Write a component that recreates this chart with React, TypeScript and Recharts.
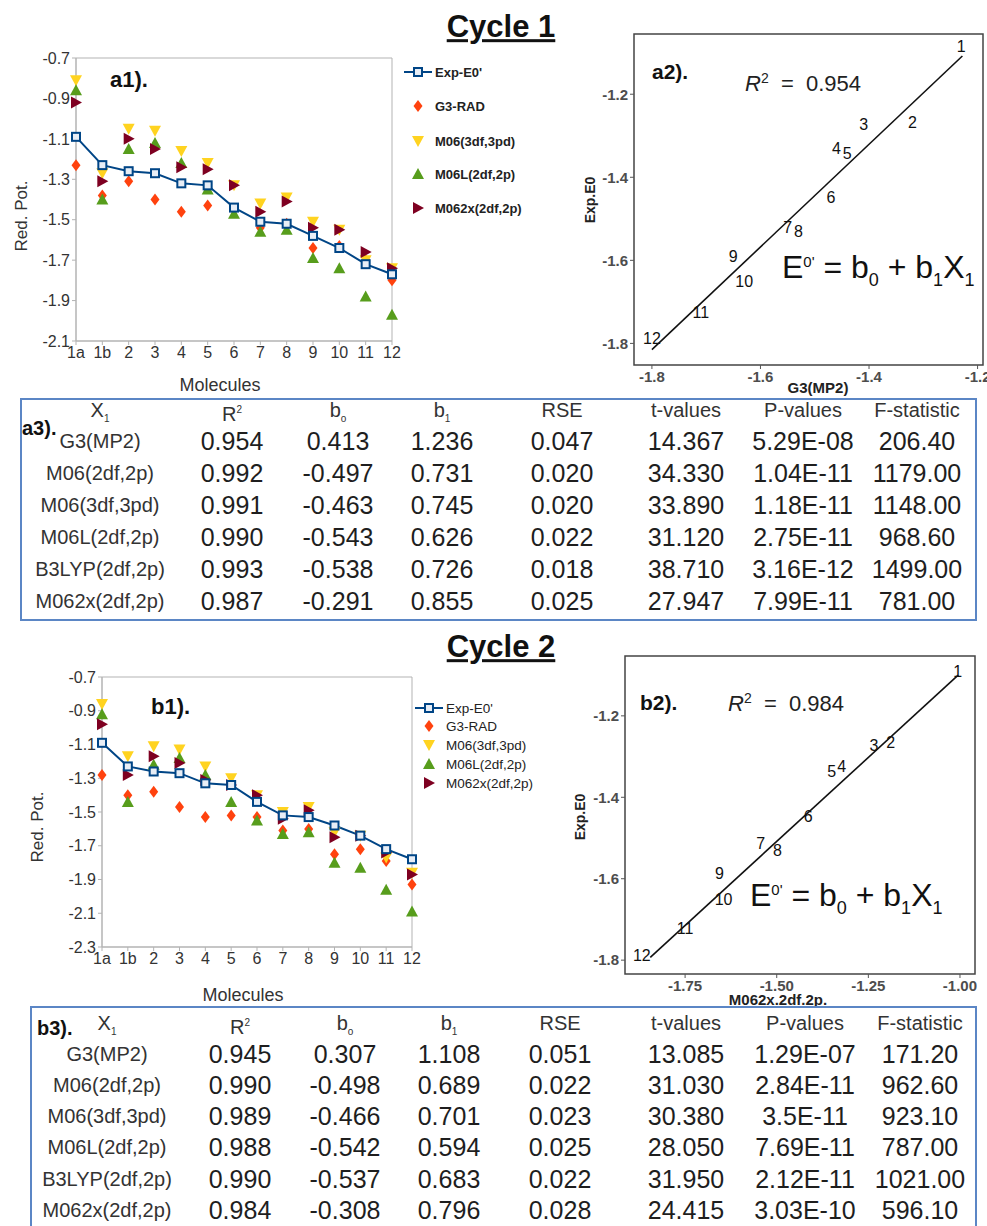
import React from 'react'
import { ComposedChart, Line, Scatter, XAxis, YAxis, ReferenceArea } from 'recharts'

// molecules on the x axis of a1 / b1
const molecules = ['1a', '1b', '2', '3', '4', '5', '6', '7', '8', '9', '10', '11', '12']

// cycle 1 reduction potentials
const c1Exp = [-1.09, -1.23, -1.26, -1.27, -1.32, -1.33, -1.44, -1.51, -1.52, -1.58, -1.64, -1.72, -1.77]
const c1G3Rad = [-1.23, -1.38, -1.31, -1.4, -1.46, -1.43, -1.45, -1.54, -1.52, -1.64, -1.63, -1.7, -1.8]
const c1M06 = [-0.81, -1.27, -1.05, -1.06, -1.16, -1.22, -1.33, -1.42, -1.39, -1.51, -1.55, -1.7, -1.74]
const c1M06L = [-0.86, -1.4, -1.15, -1.12, -1.22, -1.35, -1.47, -1.56, -1.55, -1.69, -1.74, -1.88, -1.97]
const c1M062x = [-0.92, -1.31, -1.1, -1.15, -1.24, -1.25, -1.33, -1.46, -1.41, -1.54, -1.55, -1.66, -1.74]
const c1Ticks = [-2.1, -1.9, -1.7, -1.5, -1.3, -1.1, -0.9, -0.7]

// cycle 2 reduction potentials
const c2Exp = [-1.09, -1.23, -1.26, -1.27, -1.33, -1.34, -1.44, -1.52, -1.53, -1.58, -1.64, -1.72, -1.78]
const c2G3Rad = [-1.28, -1.4, -1.38, -1.47, -1.53, -1.52, -1.53, -1.61, -1.6, -1.75, -1.72, -1.79, -1.93]
const c2M06 = [-0.86, -1.17, -1.11, -1.13, -1.23, -1.3, -1.4, -1.5, -1.47, -1.62, -1.64, -1.77, -1.86]
const c2M06L = [-0.92, -1.44, -1.22, -1.18, -1.28, -1.44, -1.55, -1.63, -1.62, -1.8, -1.83, -1.96, -2.09]
const c2M062x = [-0.98, -1.28, -1.17, -1.21, -1.31, -1.34, -1.4, -1.54, -1.49, -1.65, -1.64, -1.74, -1.87]
const c2Ticks = [-2.3, -2.1, -1.9, -1.7, -1.5, -1.3, -1.1, -0.9, -0.7]

// regression panels (point labels 1..12)
const fitLabels = ['1', '2', '3', '4', '5', '6', '7', '8', '9', '10', '11', '12']
const a2X = [-1.23, -1.32, -1.41, -1.46, -1.44, -1.47, -1.55, -1.53, -1.65, -1.63, -1.71, -1.8]
const a2Y = [-1.085, -1.268, -1.274, -1.33, -1.342, -1.448, -1.52, -1.531, -1.59, -1.651, -1.726, -1.788]
const a2FitX = [-1.8, -1.228]
const a2FitY = [-1.815, -1.108]
const b2X = [-1.006, -1.189, -1.235, -1.323, -1.35, -1.414, -1.544, -1.498, -1.656, -1.645, -1.75, -1.868]
const b2Y = [-1.09, -1.266, -1.272, -1.325, -1.337, -1.448, -1.513, -1.531, -1.587, -1.651, -1.722, -1.788]
const b2FitX = [-1.845, -1.005]
const b2FitY = [-1.793, -1.1]

// tables
const methods = ['G3(MP2)', 'M06(2df,2p)', 'M06(3df,3pd)', 'M06L(2df,2p)', 'B3LYP(2df,2p)', 'M062x(2df,2p)']
const c1R2 = ['0.954', '0.992', '0.991', '0.990', '0.993', '0.987']
const c1B0 = ['0.413', '-0.497', '-0.463', '-0.543', '-0.538', '-0.291']
const c1B1 = ['1.236', '0.731', '0.745', '0.626', '0.726', '0.855']
const c1Rse = ['0.047', '0.020', '0.020', '0.022', '0.018', '0.025']
const c1T = ['14.367', '34.330', '33.890', '31.120', '38.710', '27.947']
const c1P = ['5.29E-08', '1.04E-11', '1.18E-11', '2.75E-11', '3.16E-12', '7.99E-11']
const c1F = ['206.40', '1179.00', '1148.00', '968.60', '1499.00', '781.00']
const c2R2 = ['0.945', '0.990', '0.989', '0.988', '0.990', '0.984']
const c2B0 = ['0.307', '-0.498', '-0.466', '-0.542', '-0.537', '-0.308']
const c2B1 = ['1.108', '0.689', '0.701', '0.594', '0.683', '0.796']
const c2Rse = ['0.051', '0.022', '0.023', '0.025', '0.022', '0.028']
const c2T = ['13.085', '31.030', '30.380', '28.050', '31.950', '24.415']
const c2P = ['1.29E-07', '2.84E-11', '3.5E-11', '7.69E-11', '2.12E-11', '3.03E-10']
const c2F = ['171.20', '962.60', '923.10', '787.00', '1021.00', '596.10']

const BLUE = '#004586'
const ORANGE = '#ff420e'
const YELLOW = '#ffd320'
const GREEN = '#579d1c'
const MAROON = '#7e0021'
const SANS = 'Liberation Sans, Arial, sans-serif'

const squareDot = (p: any) => (
  <rect key={p.index} x={p.cx - 4} y={p.cy - 4} width={8} height={8} fill="#e8eef6" stroke={BLUE} strokeWidth={2} />
)
const diamond = (p: any) => (
  <path d={`M${p.cx},${p.cy - 6}L${p.cx + 4.5},${p.cy}L${p.cx},${p.cy + 6}L${p.cx - 4.5},${p.cy}Z`} fill={ORANGE} />
)
const triDown = (p: any) => (
  <path d={`M${p.cx - 6},${p.cy - 5}L${p.cx + 6},${p.cy - 5}L${p.cx},${p.cy + 6}Z`} fill={YELLOW} />
)
const triUp = (p: any) => (
  <path d={`M${p.cx - 6},${p.cy + 5}L${p.cx + 6},${p.cy + 5}L${p.cx},${p.cy - 6}Z`} fill={GREEN} />
)
const triRight = (p: any) => (
  <path d={`M${p.cx - 5},${p.cy - 6}L${p.cx + 6},${p.cy}L${p.cx - 5},${p.cy + 6}Z`} fill={MAROON} />
)
const numLabel = (p: any) => (
  <text x={p.cx} y={p.cy} textAnchor="middle" dominantBaseline="central" fontSize={16} fontFamily={SANS} fill="#111">
    {p.payload.label}
  </text>
)

function Tx({ x, y, rot = 0, left = false, style, children }: any) {
  return (
    <div
      style={{
        position: 'absolute',
        left: x,
        top: y,
        transform: `translate(${left ? '0' : '-50%'},-50%) rotate(${rot}deg)`,
        whiteSpace: 'nowrap',
        lineHeight: 1.15,
        fontFamily: SANS,
        color: '#222',
        ...style,
      }}
    >
      {children}
    </div>
  )
}

function CyclePanel({ left, top, width, height, margin, yWidth, series, yDomain, yTicks }: any) {
  const [exp, g3, m06, m06l, m062x] = series
  const rows = molecules.map((m, i) => ({ i, name: m, exp: exp[i], g3: g3[i], m06: m06[i], m06l: m06l[i], m062x: m062x[i] }))
  return (
    <div style={{ position: 'absolute', left, top }}>
      <ComposedChart width={width} height={height} margin={margin} data={rows}>
        <XAxis
          dataKey="i"
          type="number"
          domain={[0, 12]}
          ticks={rows.map((r) => r.i)}
          interval={0}
          tickFormatter={(v: number) => molecules[v]}
          height={25}
          stroke="#b3b3b3"
          tickSize={4}
          tick={{ fill: '#333', fontSize: 16, fontFamily: SANS }}
        />
        <YAxis
          type="number"
          domain={yDomain}
          ticks={yTicks}
          interval={0}
          tickFormatter={(v: number) => v.toFixed(1)}
          width={yWidth}
          stroke="#b3b3b3"
          tickSize={4}
          tick={{ fill: '#333', fontSize: 16, fontFamily: SANS }}
        />
        <ReferenceArea x1={0} x2={12} y1={yDomain[0]} y2={yDomain[1]} fill="none" stroke="#b3b3b3" />
        <Scatter data={rows} dataKey="g3" shape={diamond} isAnimationActive={false} />
        <Scatter data={rows} dataKey="m06" shape={triDown} isAnimationActive={false} />
        <Scatter data={rows} dataKey="m06l" shape={triUp} isAnimationActive={false} />
        <Scatter data={rows} dataKey="m062x" shape={triRight} isAnimationActive={false} />
        <Line dataKey="exp" stroke={BLUE} strokeWidth={2} dot={squareDot} isAnimationActive={false} />
      </ComposedChart>
    </div>
  )
}

function FitPanel({ left, top, width, height, margin, yWidth, xs, ys, fitX, fitY, xDomain, yDomain, xTicks, yTicks, xDigits }: any) {
  const pts = xs.map((x: number, i: number) => ({ x, y: ys[i], label: fitLabels[i] }))
  const fit = fitX.map((x: number, i: number) => ({ x, y: fitY[i] }))
  const tick = { fill: '#4d4d4d', fontSize: 15, fontWeight: 'bold', fontFamily: SANS }
  return (
    <div style={{ position: 'absolute', left, top }}>
      <ComposedChart width={width} height={height} margin={margin}>
        <XAxis
          dataKey="x"
          type="number"
          domain={xDomain}
          ticks={xTicks}
          interval={0}
          tickFormatter={(v: number) => v.toFixed(xDigits)}
          height={30}
          axisLine={false}
          tickLine={{ stroke: '#555' }}
          tickSize={4}
          tick={tick}
        />
        <YAxis
          type="number"
          domain={yDomain}
          ticks={yTicks}
          interval={0}
          tickFormatter={(v: number) => v.toFixed(1)}
          width={yWidth}
          axisLine={false}
          tickLine={{ stroke: '#555' }}
          tickSize={4}
          tick={tick}
        />
        <ReferenceArea x1={xDomain[0]} x2={xDomain[1]} y1={yDomain[0]} y2={yDomain[1]} fill="none" stroke="#444" strokeWidth={1.5} />
        <Line data={fit} dataKey="y" stroke="#111" strokeWidth={1.6} dot={false} isAnimationActive={false} />
        <Scatter data={pts} dataKey="y" shape={numLabel} isAnimationActive={false} />
      </ComposedChart>
    </div>
  )
}

const legendItems = [
  { name: "Exp-E0'", kind: 'line' },
  { name: 'G3-RAD', kind: 'diamond' },
  { name: 'M06(3df,3pd)', kind: 'down' },
  { name: 'M06L(2df,2p)', kind: 'up' },
  { name: 'M062x(2df,2p)', kind: 'right' },
]

function LegendSym({ kind }: { kind: string }) {
  const p = { cx: 14, cy: 8, index: 0 }
  return (
    <svg width={28} height={16} style={{ display: 'block' }}>
      {kind === 'line' && (
        <>
          <line x1={0} y1={8} x2={28} y2={8} stroke={BLUE} strokeWidth={2} />
          {squareDot(p)}
        </>
      )}
      {kind === 'diamond' && diamond(p)}
      {kind === 'down' && triDown(p)}
      {kind === 'up' && triUp(p)}
      {kind === 'right' && triRight(p)}
    </svg>
  )
}

function Legend({ left, ys, fontSize, bold }: any) {
  return (
    <>
      {legendItems.map((it, k) => (
        <div
          key={it.name}
          style={{ position: 'absolute', left, top: ys[k] - 8, height: 16, display: 'flex', alignItems: 'center' }}
        >
          <LegendSym kind={it.kind} />
          <span style={{ marginLeft: 3, fontFamily: SANS, fontWeight: bold ? 'bold' : 'normal', fontSize, color: '#222', whiteSpace: 'nowrap' }}>
            {it.name}
          </span>
        </div>
      ))}
    </>
  )
}

const small = { fontSize: 10 }
const headers = [
  <span>X<span style={{ ...small, verticalAlign: 'sub' }}>1</span></span>,
  <span>R<span style={{ ...small, verticalAlign: 'super' }}>2</span></span>,
  <span>b<span style={{ ...small, verticalAlign: 'sub' }}>o</span></span>,
  <span>b<span style={{ ...small, verticalAlign: 'sub' }}>1</span></span>,
  'RSE',
  't-values',
  'P-values',
  'F-statistic',
]

function StatTable({ box, label, labelX, labelY, headY, rowY, colX, cols }: any) {
  const cell = (x: number, y: number, fs: number, color: string, content: any, key: string) => (
    <div
      key={key}
      style={{
        position: 'absolute',
        left: x - 90,
        width: 180,
        top: y - fs * 0.6,
        height: fs * 1.2,
        lineHeight: `${fs * 1.2}px`,
        textAlign: 'center',
        fontFamily: SANS,
        fontSize: fs,
        color,
        whiteSpace: 'nowrap',
      }}
    >
      {content}
    </div>
  )
  return (
    <>
      <div style={{ position: 'absolute', ...box, border: '2px solid #5b86c5', boxSizing: 'border-box' }} />
      <Tx x={labelX} y={labelY} left style={{ fontWeight: 'bold', fontSize: 20, color: '#111' }}>{label}</Tx>
      {headers.map((h, c) => cell(colX[c], headY, 20, '#333', h, `h${c}`))}
      {cols.map((vals: string[], c: number) =>
        vals.map((v, r) => cell(colX[c], rowY[r], c === 0 ? 20 : 25, c === 0 ? '#333' : '#1e1e1e', v, `c${c}r${r}`)),
      )}
    </>
  )
}

export default function App() {
  return (
    <div style={{ position: 'absolute', left: 0, top: 0, width: 987, height: 1226, background: '#fff', overflow: 'hidden', fontFamily: SANS }}>
      <Tx x={501} y={27} style={{ fontSize: 31, fontWeight: 'bold', textDecoration: 'underline', color: '#111' }}>Cycle 1</Tx>
      <Tx x={501} y={647} style={{ fontSize: 31, fontWeight: 'bold', textDecoration: 'underline', color: '#111' }}>Cycle 2</Tx>

      {/* a1 */}
      <CyclePanel
        left={0}
        top={40}
        width={412}
        height={330}
        margin={{ top: 18, right: 20, bottom: 4, left: 0 }}
        yWidth={76}
        series={[c1Exp, c1G3Rad, c1M06, c1M06L, c1M062x]}
        yDomain={[-2.1, -0.7]}
        yTicks={c1Ticks}
      />
      <Tx x={110} y={80} left style={{ fontSize: 22, fontWeight: 'bold', color: '#111' }}>a1).</Tx>
      <Tx x={22} y={216} rot={-90} style={{ fontSize: 17, color: '#333' }}>Red. Pot.</Tx>
      <Tx x={220} y={385} style={{ fontSize: 18, color: '#333' }}>Molecules</Tx>
      <Legend left={404} ys={[72, 106, 141, 174, 208]} fontSize={13} bold />

      {/* a2 */}
      <FitPanel
        left={580}
        top={20}
        width={407}
        height={381}
        margin={{ top: 14, right: 4, bottom: 6, left: 0 }}
        yWidth={54}
        xs={a2X}
        ys={a2Y}
        fitX={a2FitX}
        fitY={a2FitY}
        xDomain={[-1.833, -1.19]}
        yDomain={[-1.852, -1.055]}
        xTicks={[-1.8, -1.6, -1.4, -1.2]}
        yTicks={[-1.8, -1.6, -1.4, -1.2]}
        xDigits={1}
      />
      <Tx x={652} y={72} left style={{ fontSize: 21, fontWeight: 'bold', color: '#111' }}>a2).</Tx>
      <Tx x={745} y={83} left style={{ fontSize: 22, color: '#222' }}>
        <i>R</i><sup style={{ fontSize: 14 }}>2</sup>&nbsp;&nbsp;=&nbsp;&nbsp;0.954
      </Tx>
      <Tx x={782} y={270} left style={{ fontSize: 32, color: '#111' }}>
        E<sup style={{ fontSize: 15 }}>0'</sup> = b<sub style={{ fontSize: 18 }}>0</sub> + b<sub style={{ fontSize: 18 }}>1</sub>X<sub style={{ fontSize: 18 }}>1</sub>
      </Tx>
      <Tx x={818} y={388} style={{ fontSize: 15, fontWeight: 'bold', color: '#222' }}>G3(MP2)</Tx>
      <Tx x={590} y={200} rot={-90} style={{ fontSize: 14, fontWeight: 'bold', color: '#222' }}>Exp.E0</Tx>

      {/* a3 */}
      <StatTable
        box={{ left: 20, top: 398, width: 957, height: 223 }}
        label="a3)."
        labelX={22}
        labelY={428}
        headY={410}
        rowY={[441, 473, 505, 537, 569, 601]}
        colX={[100, 232, 338, 442, 562, 686, 803, 917]}
        cols={[methods, c1R2, c1B0, c1B1, c1Rse, c1T, c1P, c1F]}
      />

      {/* b1 */}
      <CyclePanel
        left={0}
        top={660}
        width={432}
        height={316}
        margin={{ top: 17, right: 20, bottom: 4, left: 0 }}
        yWidth={102}
        series={[c2Exp, c2G3Rad, c2M06, c2M06L, c2M062x]}
        yDomain={[-2.3, -0.7]}
        yTicks={c2Ticks}
      />
      <Tx x={151} y={707} left style={{ fontSize: 22, fontWeight: 'bold', color: '#111' }}>b1).</Tx>
      <Tx x={38} y={827} rot={-90} style={{ fontSize: 17, color: '#333' }}>Red. Pot.</Tx>
      <Tx x={243} y={995} style={{ fontSize: 18, color: '#333' }}>Molecules</Tx>
      <Legend left={415} ys={[708, 726, 745, 764, 783]} fontSize={13.5} />

      {/* b2 */}
      <FitPanel
        left={570}
        top={640}
        width={417}
        height={370}
        margin={{ top: 16, right: 12, bottom: 6, left: 0 }}
        yWidth={55}
        xs={b2X}
        ys={b2Y}
        fitX={b2FitX}
        fitY={b2FitY}
        xDomain={[-1.914, -0.959]}
        yDomain={[-1.834, -1.053]}
        xTicks={[-1.75, -1.5, -1.25, -1.0]}
        yTicks={[-1.8, -1.6, -1.4, -1.2]}
        xDigits={2}
      />
      <Tx x={640} y={703} left style={{ fontSize: 21, fontWeight: 'bold', color: '#111' }}>b2).</Tx>
      <Tx x={728} y={703} left style={{ fontSize: 22, color: '#222' }}>
        <i>R</i><sup style={{ fontSize: 14 }}>2</sup>&nbsp;&nbsp;=&nbsp;&nbsp;0.984
      </Tx>
      <Tx x={750} y={898} left style={{ fontSize: 32, color: '#111' }}>
        E<sup style={{ fontSize: 15 }}>0'</sup> = b<sub style={{ fontSize: 18 }}>0</sub> + b<sub style={{ fontSize: 18 }}>1</sub>X<sub style={{ fontSize: 18 }}>1</sub>
      </Tx>
      <Tx x={778} y={1000} style={{ fontSize: 15, fontWeight: 'bold', color: '#222' }}>M062x.2df.2p.</Tx>
      <Tx x={580} y={817} rot={-90} style={{ fontSize: 14, fontWeight: 'bold', color: '#222' }}>Exp.E0</Tx>

      {/* b3 */}
      <StatTable
        box={{ left: 30, top: 1006, width: 947, height: 240 }}
        label="b3)."
        labelX={37}
        labelY={1028}
        headY={1023}
        rowY={[1054, 1085, 1116, 1147, 1179, 1210]}
        colX={[107, 240, 345, 449, 560, 686, 805, 920]}
        cols={[methods, c2R2, c2B0, c2B1, c2Rse, c2T, c2P, c2F]}
      />
    </div>
  )
}
